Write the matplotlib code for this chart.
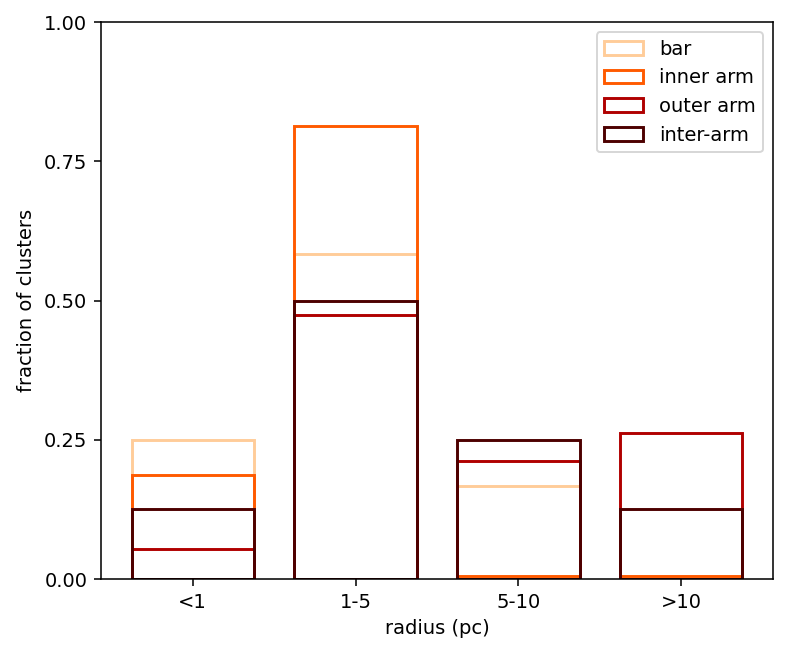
import numpy as np
import matplotlib
matplotlib.use('Agg')
import matplotlib.pyplot as plt

# radius bins and fraction of clusters per environment
categories = ['<1', '1-5', '5-10', '>10']
bar_frac = [0.25, 0.583, 0.167, 0.0]
inner_arm_frac = [0.1875, 0.8125, 0.005, 0.005]
outer_arm_frac = [0.053, 0.474, 0.211, 0.263]
inter_arm_frac = [0.125, 0.5, 0.25, 0.125]

series = [
    ('bar', bar_frac, '#ffcc99'),
    ('inner arm', inner_arm_frac, '#ff5a00'),
    ('outer arm', outer_arm_frac, '#b00000'),
    ('inter-arm', inter_arm_frac, '#4d0000'),
]

dpi = 140
fig = plt.figure(figsize=(788 / dpi, 655 / dpi), dpi=dpi)
ax = fig.add_axes([0.1282, 0.1160, 0.8528, 0.8504])

x = np.arange(len(categories))
for label, vals, color in series:
    ax.bar(x, vals, width=0.75, fill=False, edgecolor=color, linewidth=1.5, label=label)

ax.set_xticks(x)
ax.set_xticklabels(categories)
ax.set_ylim(0, 1)
ax.set_yticks([0, 0.25, 0.5, 0.75, 1.0])
ax.set_yticklabels(['0.00', '0.25', '0.50', '0.75', '1.00'])
ax.set_xlabel('radius (pc)')
ax.set_ylabel('fraction of clusters')
ax.legend(loc='upper right')

fig.savefig('out.png', dpi=dpi)
